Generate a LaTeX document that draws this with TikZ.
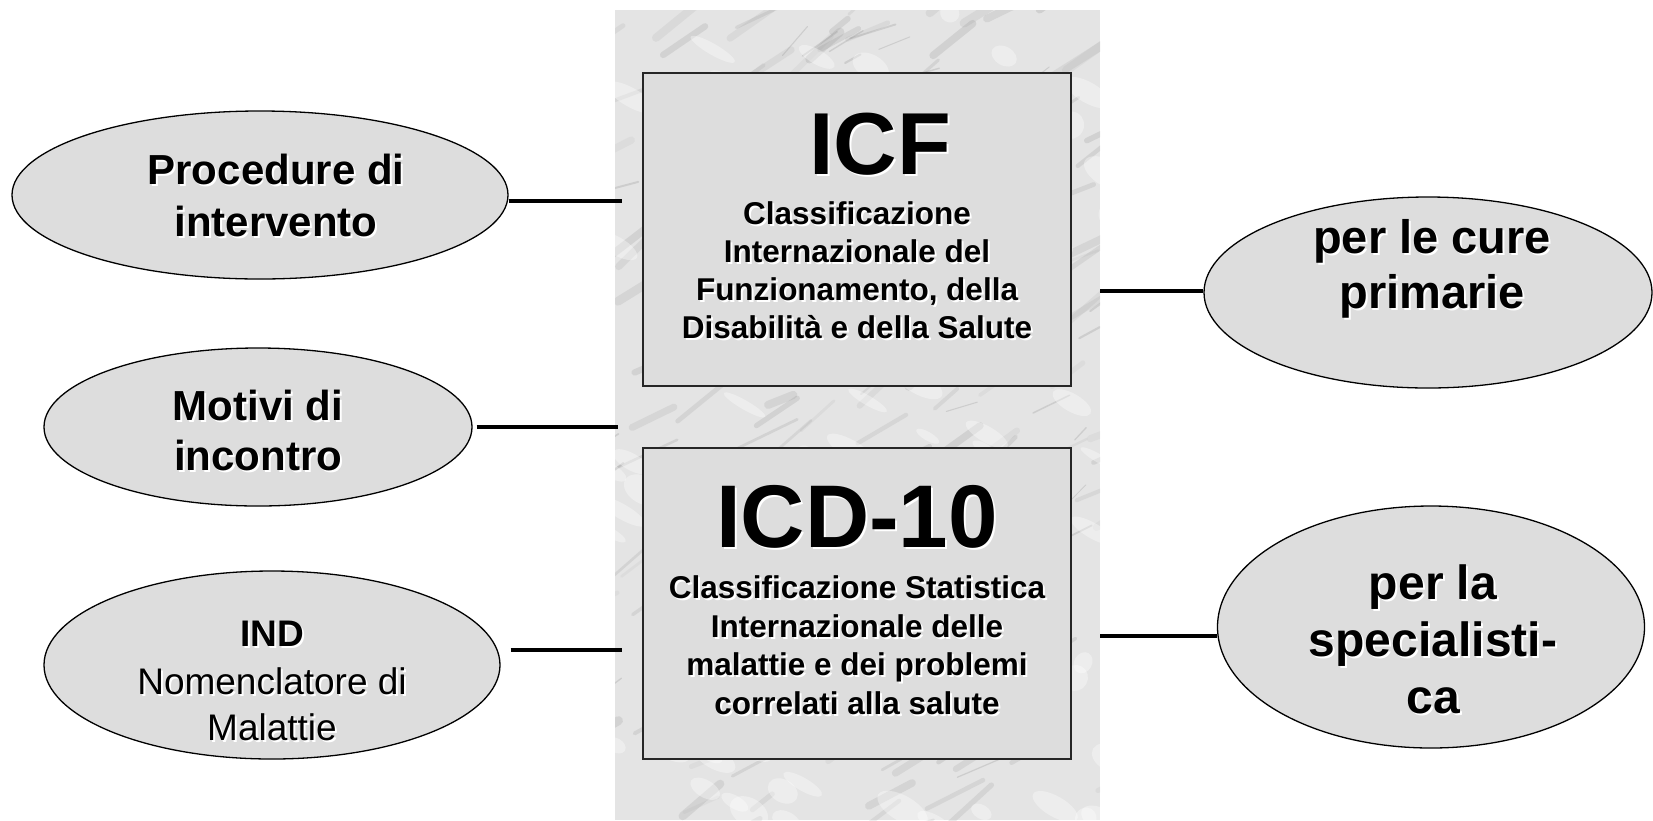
\documentclass[tikz,border=0pt]{standalone}
\usepackage{fontspec}
\setmainfont{Liberation Sans}
\usetikzlibrary{shapes.geometric}
\definecolor{boxgray}{RGB}{221,221,221}
\definecolor{marble}{RGB}{228,228,228}
\definecolor{streak}{RGB}{140,140,140}
\tikzset{
  bubble/.style={ellipse, draw=black, line width=1.3pt, fill=boxgray, inner sep=0pt},
  classbox/.style={rectangle, draw=black!85, line width=2pt, fill=boxgray, inner sep=0pt},
  link/.style={line width=3.6pt, draw=black},
  txt/.style={align=center, inner sep=0pt, text=black},
  shd/.style={align=center, inner sep=0pt, text=white},
}
\newcommand\shadowtext[5]{%
  \node[shd,font=#4] (#1s) at (#2+2,#3+2) {#5};
  \node[txt,font=#4] (#1) at (#2,#3) {#5};}
\begin{document}
\begin{tikzpicture}[x=1pt,y=-1pt]
\path[use as bounding box, fill=white] (0,0) rectangle (1653,820);
% marble panel
\begin{scope}
  \clip (615,10) rectangle (1100,820);
  \fill[marble] (615,10) rectangle (1100,820);
  \pgfmathsetseed{7}
  % soft grey veins
  \foreach \i in {1,...,160}{
    \pgfmathsetmacro\xa{590+530*rnd}
    \pgfmathsetmacro\ya{0+840*rnd}
    \pgfmathsetmacro\len{20+70*rnd}
    \pgfmathsetmacro\ang{-45+25*rnd}
    \pgfmathsetmacro\lw{2+7*rnd}
    \pgfmathsetmacro\op{0.08+0.14*rnd}
    \draw[streak, opacity=\op, line width=\lw pt, line cap=round] (\xa,\ya) -- ++(\ang:\len);
  }
  % thin darker veins
  \foreach \i in {1,...,60}{
    \pgfmathsetmacro\xa{590+530*rnd}
    \pgfmathsetmacro\ya{0+840*rnd}
    \pgfmathsetmacro\len{10+40*rnd}
    \pgfmathsetmacro\ang{-50+40*rnd}
    \pgfmathsetmacro\lw{0.8+1.5*rnd}
    \draw[streak, opacity=0.25, line width=\lw pt, line cap=round] (\xa,\ya) -- ++(\ang:\len);
  }
  % white patches
  \foreach \i in {1,...,120}{
    \pgfmathsetmacro\xa{590+530*rnd}
    \pgfmathsetmacro\ya{0+840*rnd}
    \pgfmathsetmacro\rx{8+22*rnd}
    \pgfmathsetmacro\ry{4+10*rnd}
    \fill[white, opacity=0.35, rotate around={-30:(\xa,\ya)}] (\xa,\ya) ellipse ({\rx} and {\ry});
  }
\end{scope}
% ellipses
\node[bubble, minimum width=496, minimum height=168] (e1) at (260,195) {};
\node[bubble, minimum width=428, minimum height=158] (e2) at (258,427) {};
\node[bubble, minimum width=456, minimum height=188] (e3) at (272,665) {};
\node[bubble, minimum width=448, minimum height=191] (e4) at (1428,292.5) {};
\node[bubble, minimum width=427, minimum height=242] (e5) at (1431,627) {};
% boxes
\node[classbox, minimum width=428, minimum height=313] (icfbox) at (857,229.5) {};
\node[classbox, minimum width=428, minimum height=311] (icdbox) at (857,603.5) {};
% connectors
\coordinate (p1) at (622,201);
\coordinate (p2) at (618,427);
\coordinate (p3) at (622,650);
\coordinate (q1) at (1100,291);
\coordinate (q2) at (1100,636);
\draw[link] (e1.east |- p1) -- (p1);
\draw[link] ([xshift=4pt]e2.east |- p2) -- (p2);
\draw[link] ([xshift=10pt]e3.east |- p3) -- (p3);
\draw[link] (q1) -- (e4.west |- q1);
\draw[link] (q2) -- (e5.west |- q2);
% texts
\shadowtext{icf}{880}{144}{\fontsize{88}{100}\selectfont\bfseries}{ICF}
\shadowtext{icfsub}{857}{270.5}{\fontsize{31.5}{38}\selectfont\bfseries}{Classificazione\\Internazionale del\\Funzionamento, della\\Disabilità e della Salute}
\shadowtext{icd}{857}{517}{\fontsize{89}{100}\selectfont\bfseries}{ICD-10}
\shadowtext{icdsub}{857}{645}{\fontsize{31.5}{38.5}\selectfont\bfseries}{Classificazione Statistica\\Internazionale delle\\malattie e dei problemi\\correlati alla salute}
\shadowtext{t1}{276}{195}{\fontsize{42}{52}\selectfont\bfseries}{Procedure di\\intervento}
\shadowtext{t2}{258}{430}{\fontsize{42}{50}\selectfont\bfseries}{Motivi di\\incontro}
\shadowtext{t3a}{272}{634}{\fontsize{37}{46}\selectfont\bfseries}{IND}
\shadowtext{t3b}{272}{704}{\fontsize{37}{46}\selectfont}{Nomenclatore di\\Malattie}
\shadowtext{t4}{1432}{268.5}{\fontsize{47}{55}\selectfont\bfseries}{per le cure\\primarie}
\shadowtext{t5}{1433}{639}{\fontsize{48}{57}\selectfont\bfseries}{per la\\specialisti-\\ca}
\end{tikzpicture}
\end{document}
